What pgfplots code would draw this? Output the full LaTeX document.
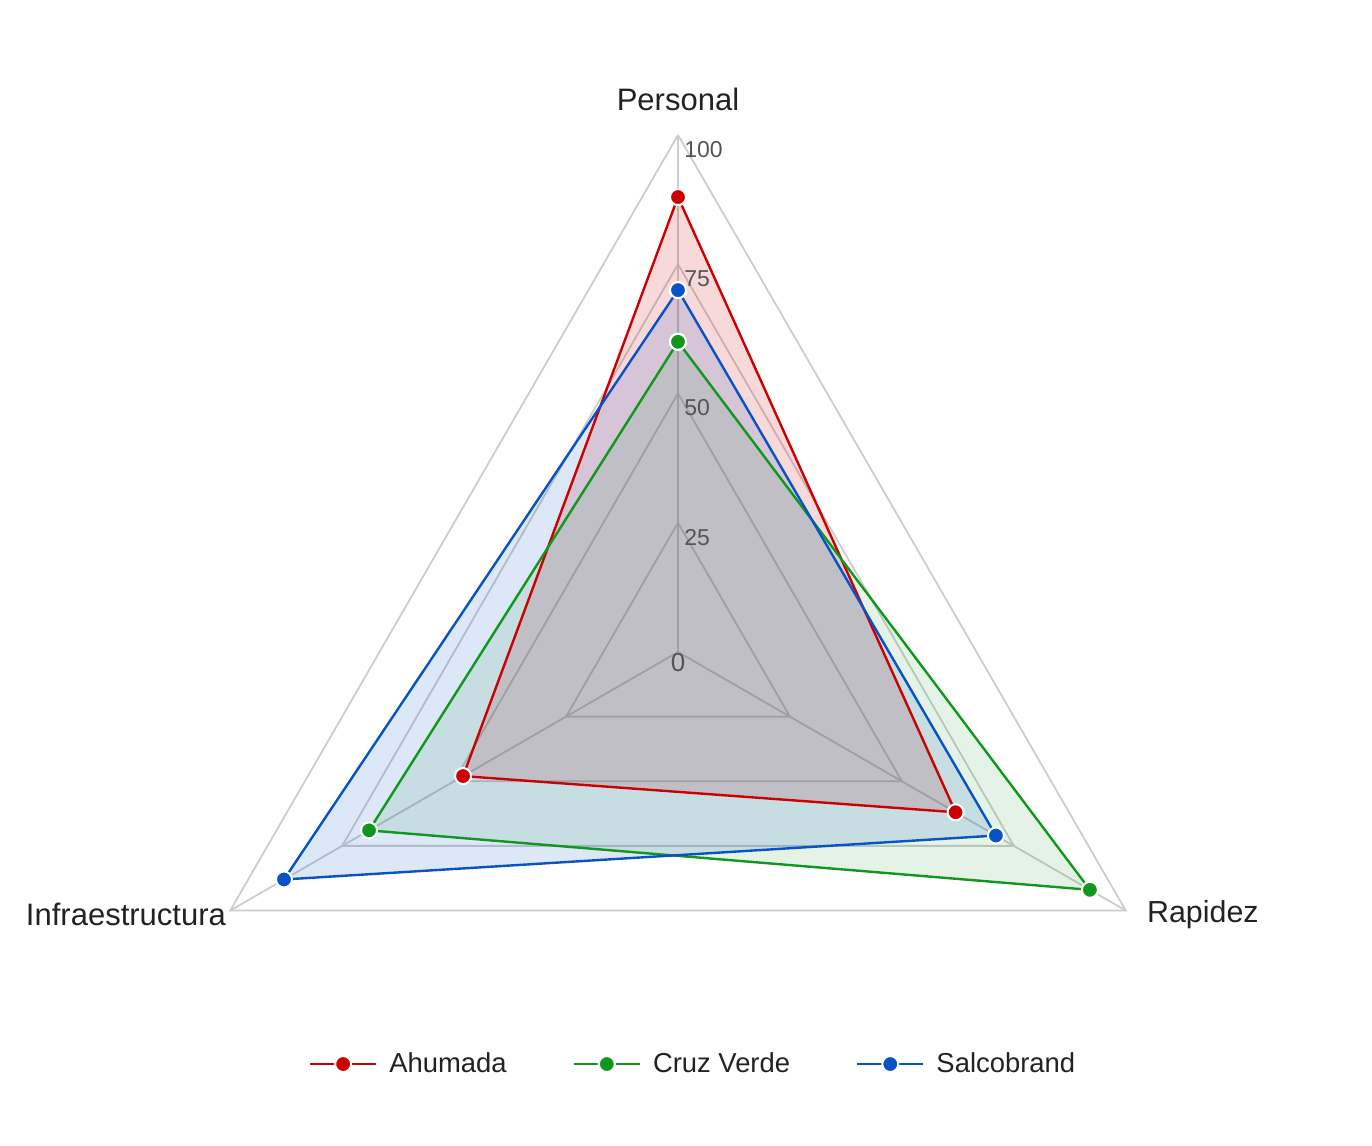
\documentclass[border=0pt]{standalone}
\usepackage{fontspec}
\setmainfont{Liberation Sans}
\usepackage{pgfplots}
\pgfplotsset{compat=1.18}
\usepgfplotslibrary{polar}
\definecolor{cA}{RGB}{204,0,0}
\definecolor{cC}{RGB}{17,150,30}
\definecolor{cS}{RGB}{8,82,200}
\definecolor{gridc}{RGB}{205,205,205}
\definecolor{labc}{RGB}{34,34,34}
\definecolor{tickc}{RGB}{85,85,85}
\begin{document}
\begin{tikzpicture}
\useasboundingbox (0,0) rectangle (686pt,573pt);
\begin{polaraxis}[
  at={(339pt,247pt)}, anchor=center,
  scale only axis, width=517pt, height=517pt,
  xmin=0, xmax=360, ymin=0, ymax=100,
  hide axis, clip=false,
  legend columns=3,
  legend style={at={(0.5155,0.1015)}, anchor=center, draw=none, fill=none,
    font=\fontsize{13.7}{16}\selectfont, text=labc,
    /tikz/every even column/.append style={column sep=31pt}},
  legend image code/.code={\draw[mark repeat=2,mark phase=2,#1] plot coordinates {(0pt,0pt)(16.5pt,0pt)(33pt,0pt)};\path (37pt,0pt);},
]
% grid
\addplot[gridc, line width=0.9pt, forget plot] coordinates {(90,25)(330,25)(210,25)(90,25)};
\addplot[gridc, line width=0.9pt, forget plot] coordinates {(90,50)(330,50)(210,50)(90,50)};
\addplot[gridc, line width=0.9pt, forget plot] coordinates {(90,75)(330,75)(210,75)(90,75)};
\addplot[gridc, line width=0.9pt, forget plot] coordinates {(90,100)(330,100)(210,100)(90,100)};
\addplot[gridc, line width=0.9pt, forget plot] coordinates {(90,0)(90,100)};
\addplot[gridc, line width=0.9pt, forget plot] coordinates {(330,0)(330,100)};
\addplot[gridc, line width=0.9pt, forget plot] coordinates {(210,0)(210,100)};
% fills
\addplot[draw=none, fill=cA, fill opacity=0.15, forget plot] coordinates {(90,88)(330,62)(210,48)(90,88)};
\addplot[draw=none, fill=cC, fill opacity=0.11, forget plot] coordinates {(90,60)(330,92)(210,69)(90,60)};
\addplot[draw=none, fill=cS, fill opacity=0.14, forget plot] coordinates {(90,70)(330,71)(210,88)(90,70)};
% series lines and points
\addplot[cA, line width=1.2pt, line join=round, mark=*, mark size=4pt,
  mark options={fill=cA, draw=white, line width=1pt}]
  coordinates {(90,88)(330,62)(210,48)(90,88)};
\addlegendentry{Ahumada}
\addplot[cC, line width=1.2pt, line join=round, mark=*, mark size=4pt,
  mark options={fill=cC, draw=white, line width=1pt}]
  coordinates {(90,60)(330,92)(210,69)(90,60)};
\addlegendentry{Cruz Verde}
\addplot[cS, line width=1.2pt, line join=round, mark=*, mark size=4pt,
  mark options={fill=cS, draw=white, line width=1pt}]
  coordinates {(90,70)(330,71)(210,88)(90,70)};
\addlegendentry{Salcobrand}
% tick labels
\node[anchor=north west, xshift=3pt, yshift=-3pt, inner sep=0pt, text=tickc, font=\fontsize{11.5}{13}\selectfont] at (axis cs:90,100) {100};
\node[anchor=north west, xshift=3pt, yshift=-3pt, inner sep=0pt, text=tickc, font=\fontsize{11.5}{13}\selectfont] at (axis cs:90,75) {75};
\node[anchor=north west, xshift=3pt, yshift=-3pt, inner sep=0pt, text=tickc, font=\fontsize{11.5}{13}\selectfont] at (axis cs:90,50) {50};
\node[anchor=north west, xshift=3pt, yshift=-3pt, inner sep=0pt, text=tickc, font=\fontsize{11.5}{13}\selectfont] at (axis cs:90,25) {25};
\node[anchor=center, yshift=-5.5pt, inner sep=0pt, text=tickc, font=\fontsize{13}{15}\selectfont] at (axis cs:0,0) {0};
% axis labels
\node[anchor=center, inner sep=0pt, text=labc, font=\fontsize{15.5}{18}\selectfont] at (axis cs:90,106.8) {Personal};
\node[anchor=west, xshift=10.5pt, yshift=-2pt, inner sep=0pt, text=labc, font=\fontsize{15.2}{18}\selectfont] at (axis cs:330,100) {Rapidez};
\node[anchor=east, xshift=-2pt, yshift=-2pt, inner sep=0pt, text=labc, font=\fontsize{15.5}{18}\selectfont] at (axis cs:210,100) {Infraestructura};
\end{polaraxis}
\end{tikzpicture}
\end{document}
